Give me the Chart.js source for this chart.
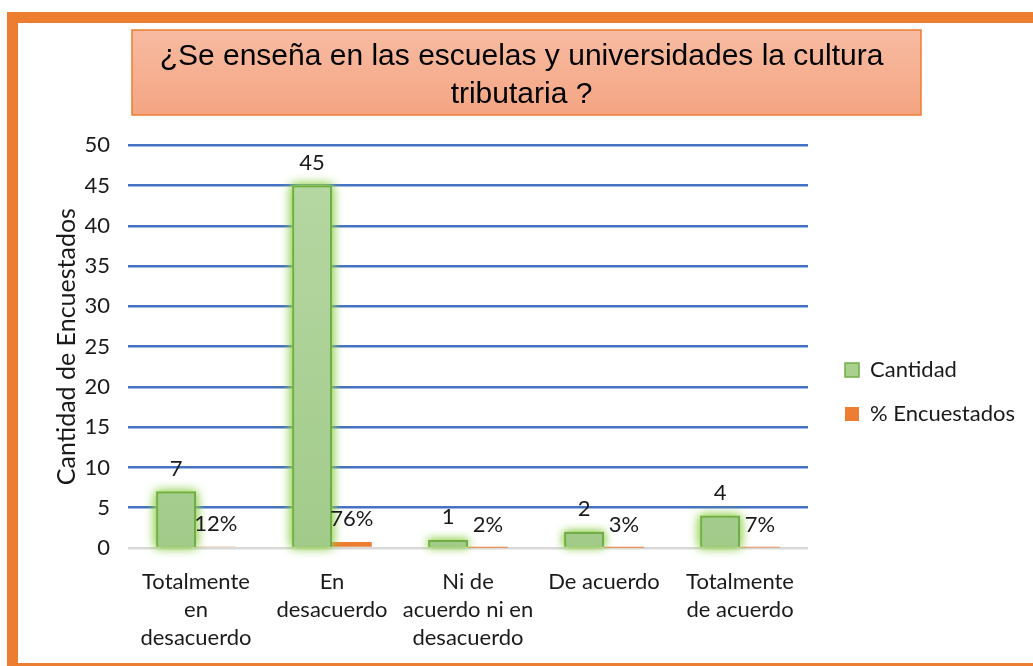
<!DOCTYPE html>
<html>
<head>
<meta charset="utf-8">
<script src="https://cdn.jsdelivr.net/npm/chart.js@4/dist/chart.umd.min.js"></script>
<style>
  html, body { margin: 0; padding: 0; background: #ffffff; overflow: hidden; width: 1033px; height: 666px; }
  #frame { position: absolute; left: 7px; top: 12px; width: 1200px; height: 640px;
           border-left: 11px solid #ED7D31; border-top: 11px solid #ED7D31; border-bottom: 11px solid #ED7D31; background: #fff; }
  #wrap { position: absolute; left: 18px; top: 23px; width: 1015px; height: 640px; }
</style>
</head>
<body>
<div id="frame"></div>
<div id="wrap"><canvas id="c" width="1015" height="640"></canvas></div>
<script>
const titleLines = ["¿Se enseña en las escuelas y universidades la cultura", "tributaria ?"];
const categories = [
  ["Totalmente", "en", "desacuerdo"],
  ["En", "desacuerdo"],
  ["Ni de", "acuerdo ni en", "desacuerdo"],
  "De acuerdo",
  ["Totalmente", "de acuerdo"]
];
const cantidad = [7, 45, 1, 2, 4];
const porcentaje = [0.12, 0.76, 0.02, 0.03, 0.07];
const seriesNames = ["Cantidad", "% Encuestados"];
const yAxisTitle = "Cantidad de Encuestados";
const yMin = 0, yMax = 50, yStep = 5;

const FONT = "Lato";
const TXT = "#1a1a1a";

const titleBoxPlugin = {
  id: 'titleBox',
  beforeDraw(chart) {
    const tb = chart.titleBlock;
    if (!tb) return;
    const ctx = chart.ctx;
    const cx = (tb.left + tb.right) / 2 + 5;
    const w = 789, h = 85;
    const x = cx - w / 2, y = 7;
    const g = ctx.createLinearGradient(0, y, 0, y + h);
    g.addColorStop(0, '#F7BBA2');
    g.addColorStop(1, '#F4A582');
    ctx.save();
    ctx.fillStyle = g;
    ctx.fillRect(x, y, w, h);
    ctx.strokeStyle = '#ED7D31';
    ctx.lineWidth = 1.5;
    ctx.strokeRect(x, y, w, h);
    ctx.restore();
  }
};

// soft green glow behind the "Cantidad" bars, drawn from the bar elements' own geometry
const glowPlugin = {
  id: 'glow',
  beforeDatasetDraw(chart, args) {
    if (args.index !== 0) return;
    const ctx = chart.ctx;
    const meta = args.meta;
    ctx.save();
    ctx.fillStyle = 'rgba(146, 208, 80, 1)';
    ctx.shadowColor = 'rgba(146, 208, 80, 0.9)';
    ctx.shadowBlur = 10;
    meta.data.forEach((el) => {
      const p = el.getProps(['x', 'y', 'base', 'width'], true);
      const top = Math.min(p.y, p.base), h = Math.abs(p.base - p.y);
      for (let k = 0; k < 2; k++) {
        ctx.fillRect(p.x - p.width / 2, top, p.width, h);
      }
    });
    ctx.restore();
  }
};

const valueLabelPlugin = {
  id: 'valueLabels',
  afterDatasetsDraw(chart) {
    const ctx = chart.ctx;
    ctx.save();
    ctx.font = "22px " + FONT;
    ctx.fillStyle = TXT;
    ctx.textAlign = 'center';
    ctx.textBaseline = 'middle';
    chart.data.datasets.forEach((ds, di) => {
      const meta = chart.getDatasetMeta(di);
      meta.data.forEach((el, i) => {
        const v = ds.data[i];
        const txt = di === 0 ? String(v) : Math.round(v * 100) + '%';
        ctx.fillText(txt, el.x, el.y - 23);
      });
    });
    ctx.restore();
  }
};

const ctx = document.getElementById('c').getContext('2d');
new Chart(ctx, {
  type: 'bar',
  data: {
    labels: categories,
    datasets: [
      {
        label: seriesNames[0],
        data: cantidad,
        backgroundColor: (c) => {
          const ca = c.chart.chartArea;
          if (!ca) return '#A9D08E';
          const g = c.chart.ctx.createLinearGradient(0, ca.top, 0, ca.bottom);
          g.addColorStop(0, '#B7D8A5');
          g.addColorStop(1, '#A2CB8A');
          return g;
        },
        borderColor: '#70AD47',
        borderWidth: 2,
        categoryPercentage: 0.585,
        barPercentage: 1.0
      },
      {
        label: seriesNames[1],
        data: porcentaje,
        backgroundColor: '#ED7D31',
        borderWidth: 0,
        categoryPercentage: 0.585,
        barPercentage: 1.0
      }
    ]
  },
  options: {
    responsive: false,
    animation: false,
    devicePixelRatio: 1,
    layout: { padding: { left: 0, right: 8, top: 0, bottom: 0 } },
    plugins: {
      title: {
        display: true,
        text: titleLines,
        color: '#000',
        font: { family: 'Liberation Sans', size: 30, weight: 'normal', lineHeight: 1.27 },
        padding: { top: 15, bottom: 31 }
      },
      legend: {
        position: 'right',
        align: 'center',
        maxWidth: 300,
        title: { display: true, text: ' ', font: { size: 20, lineHeight: 1.2 }, padding: { top: 0, bottom: 74 } },
        labels: {
          boxWidth: 14,
          boxHeight: 14,
          padding: 22,
          color: TXT,
          font: { family: FONT, size: 22 },
          generateLabels: (chart) => [
            { text: seriesNames[0], fillStyle: '#A9D08E', strokeStyle: '#70AD47', lineWidth: 1.5, datasetIndex: 0, fontColor: TXT },
            { text: seriesNames[1], fillStyle: '#ED7D31', strokeStyle: '#ED7D31', lineWidth: 0, datasetIndex: 1, fontColor: TXT }
          ]
        }
      },
      tooltip: { enabled: false }
    },
    scales: {
      x: {
        grid: { display: false, drawTicks: false },
        border: { display: false },
        ticks: {
          color: TXT,
          font: { family: FONT, size: 22, lineHeight: 1.27 },
          padding: 20,
          maxRotation: 0,
          minRotation: 0,
          autoSkip: false
        },
        afterFit: (s) => { s.height = 115; }
      },
      y: {
        min: yMin,
        max: yMax,
        ticks: {
          stepSize: yStep,
          color: TXT,
          font: { family: FONT, size: 22 },
          padding: 18
        },
        grid: {
          drawTicks: false,
          color: (c) => (c.tick && c.tick.value === 0) ? '#D9D9D9' : '#4472C4',
          lineWidth: 2.5
        },
        border: { display: false },
        title: {
          display: true,
          text: yAxisTitle,
          color: TXT,
          font: { family: FONT, size: 25, lineHeight: 1.2 },
          padding: { top: 34, bottom: 0 }
        },
        afterFit: (s) => { s.width = 110; }
      },
      gap: {
        position: 'right',
        display: true,
        grid: { display: false, drawTicks: false },
        border: { display: false },
        ticks: { display: false },
        afterFit: (s) => { s.width = 15; }
      }
    }
  },
  plugins: [titleBoxPlugin, glowPlugin, valueLabelPlugin]
});
</script>
</body>
</html>
